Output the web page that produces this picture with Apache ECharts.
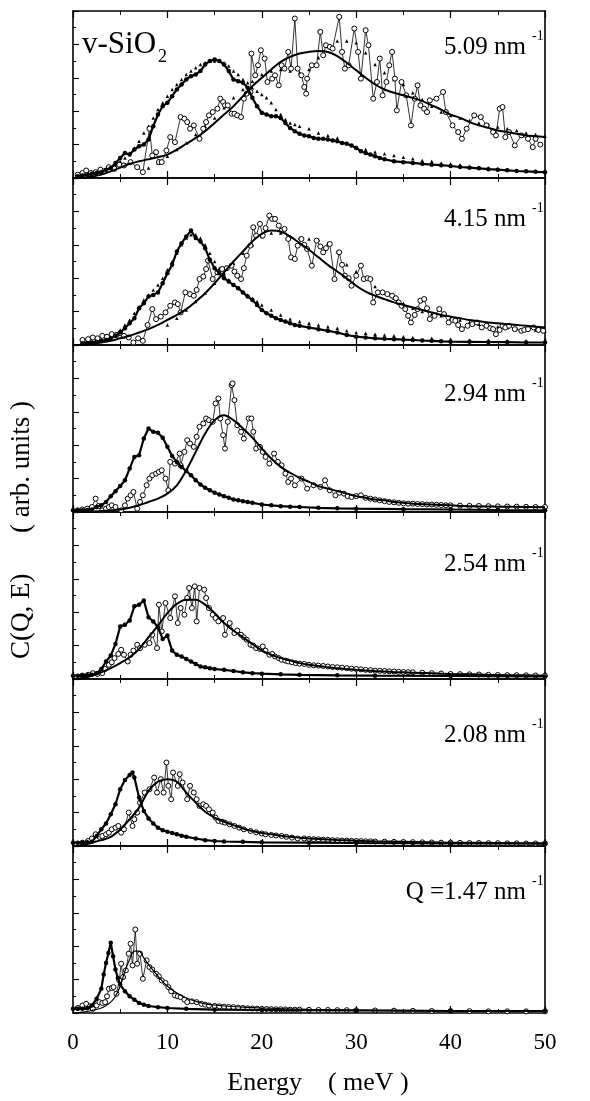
<!DOCTYPE html>
<html>
<head>
<meta charset="utf-8">
<script src="https://cdn.jsdelivr.net/npm/echarts@6/dist/echarts.min.js"></script>
<style>
  html, body { margin: 0; padding: 0; background: #fff; }
  #chart { width: 590px; height: 1101px; }
</style>
</head>
<body>
<div id="chart"></div>
<script>
// energy axis
var eTicks = [0, 10, 20, 30, 40, 50];

// ---- Q = 5.09 nm-1 ----
var open509 = [[0.5,0.2],[1.0,0.3],[1.4,0.45],[1.9,0.3],[2.4,0.35],[2.9,0.5],[3.3,0.4],[3.8,0.65],[4.4,0.55],[4.9,0.8],[5.4,0.75],[6.1,0.95],[6.8,0.65],[7.4,0.35],[8.1,2.95],[8.4,1.35],[8.8,1.55],[9.1,0.95],[9.4,0.95],[9.9,1.65],[10.3,2.45],[10.8,2.15],[11.4,3.65],[11.8,3.55],[12.1,3.35],[12.4,2.95],[12.8,3.15],[13.4,2.35],[13.8,2.95],[14.1,3.35],[14.4,3.75],[14.8,3.95],[15.3,4.15],[15.6,4.75],[15.9,4.55],[16.1,4.35],[16.4,4.35],[16.8,3.85],[17.1,3.85],[17.4,3.75],[17.8,3.65],[18.1,4.75],[18.4,5.05],[18.8,5.15],[18.9,7.45],[19.3,6.15],[19.6,6.75],[19.9,7.65],[20.3,7.15],[20.6,5.75],[21.1,5.95],[21.4,6.15],[21.8,5.55],[22.1,6.75],[22.4,6.55],[22.8,7.55],[23.1,6.55],[23.5,9.55],[23.8,6.55],[24.2,6.15],[24.5,5.45],[24.7,5.05],[24.8,5.95],[25.3,6.75],[25.8,6.75],[26.2,8.75],[26.5,7.35],[26.8,7.95],[27.2,7.85],[27.5,7.75],[28.2,9.65],[28.5,7.55],[28.8,6.55],[29.2,6.75],[29.8,8.95],[30.2,7.55],[30.5,5.95],[31.0,8.85],[31.3,7.95],[31.8,4.75],[32.2,5.75],[32.5,7.15],[32.8,4.95],[33.2,5.75],[33.5,6.75],[33.8,7.55],[34.1,5.95],[34.3,4.05],[34.8,5.75],[35.3,4.95],[35.8,3.15],[36.2,4.75],[36.5,5.55],[36.8,4.35],[37.2,4.15],[37.5,3.95],[37.8,4.65],[38.5,4.75],[39.2,5.15],[39.5,3.95],[40.2,3.15],[40.8,2.75],[41.2,2.35],[41.7,2.95],[42.5,3.75],[43.2,3.65],[43.8,3.15],[44.5,2.75],[44.8,2.55],[45.2,4.15],[45.5,4.25],[45.8,2.45],[46.2,2.75],[46.8,1.95],[47.5,2.55],[48.2,2.35],[48.7,1.85],[49.0,2.35],[49.5,2.0]];
var fill509 = [[0.5,0.1],[1,0.15],[1.5,0.2],[2,0.25],[2.5,0.3],[3,0.35],[3.5,0.5],[4,0.6],[4.5,0.9],[5,1.2],[5.5,1.5],[6,1.4],[6.5,1.7],[7,1.9],[7.5,2.0],[8,2.3],[8.5,3.1],[9,3.8],[9.5,4.3],[10,4.5],[10.5,4.9],[11,5.3],[11.5,5.6],[12,5.9],[12.5,6.1],[13,6.2],[13.5,6.4],[14,6.8],[14.5,7.0],[15,7.1],[15.5,7.0],[16,6.8],[16.5,6.4],[17,5.9],[17.5,5.8],[18,5.7],[18.5,5.4],[19,4.8],[19.5,4.3],[20,3.9],[20.5,3.8],[21,3.7],[21.5,3.7],[22,3.6],[22.5,3.3],[23,3.0],[23.5,2.8],[24,2.65],[24.5,2.55],[25,2.5],[25.5,2.4],[26,2.35],[26.5,2.35],[27,2.3],[27.5,2.25],[28,2.2],[28.5,2.1],[29,2.05],[29.5,1.95],[30,1.8],[30.5,1.6],[31,1.5],[31.5,1.4],[32,1.3],[32.5,1.2],[33,1.12],[34,1.0],[35,0.95],[36,0.9],[37,0.85],[38,0.8],[39,0.77],[40,0.72],[41,0.66],[42,0.62],[43,0.58],[44,0.53],[45,0.5],[46,0.46],[47,0.42],[48,0.4],[49,0.37],[50,0.35]];
var triLow509 = [[2,0.2],[2.5,0.3],[3,0.4],[3.5,0.5],[4,0.6],[4.5,0.8],[5,1.0],[5.5,1.2],[6,1.5],[6.5,1.8],[7,2.2],[7.5,2.7],[8,3.1],[8.5,3.6],[9,4.1],[9.5,4.5],[10,4.9],[10.5,5.3],[11,5.6],[11.5,5.9],[12,6.2],[12.5,6.4],[13,6.6],[13.5,6.8],[14,6.9],[14.5,7.0],[15,7.0],[15.5,7.0],[16,6.9],[16.5,6.7],[17,6.4],[17.5,6.2],[18,5.9],[18.5,5.7],[19,5.4],[19.5,5.2],[20,5.0],[20.5,4.8],[21,4.5],[21.5,4.1],[22,3.8],[22.5,3.5],[23,3.3],[23.5,3.2],[24,3.1],[25,2.95],[26,2.7],[27,2.55],[28,2.4],[29,2.1],[30,1.85],[31,1.7],[32,1.55],[33,1.45],[34,1.35],[35,1.25],[36,1.15],[37,1.05],[38,1.0],[39,0.9],[40,0.85],[41,0.8],[42,0.7],[43,0.65],[44,0.6],[45,0.55],[46,0.5],[47,0.47],[48,0.45],[49,0.42],[50,0.4]];
var triHigh509 = [[8,0.6],[9,0.9],[10,1.3],[11,1.7],[12,2.1],[13,2.6],[14,3.1],[15,3.6],[16,4.2],[17,4.8],[18,5.3],[19,5.8],[20,6.2],[21,6.4],[22,6.5],[23,6.4],[24,6.3],[25,6.5],[26,7.2],[27,7.9],[28,8.2],[29,8.2],[30,8.1],[31,7.5],[32,6.8],[33,6.3],[34,5.9],[35,5.6],[36,5.1],[37,4.7],[38,4.3],[39,3.95],[40,3.75],[41,3.6],[42,3.45],[43,3.3],[44,3.2],[45,3.05],[46,2.95],[47,2.85],[48,2.7],[49,2.6],[50,2.5]];
var fit509 = [[0,0],[1,0.02],[2,0.08],[3,0.2],[4,0.4],[5,0.62],[6,0.85],[7,1.0],[8,1.12],[9,1.25],[10,1.4],[11,1.7],[12,2.05],[13,2.4],[14,2.8],[15,3.3],[16,3.8],[17,4.3],[18,4.9],[19,5.5],[20,6.0],[21,6.5],[22,6.95],[23,7.25],[24,7.45],[25,7.55],[26,7.6],[27,7.55],[28,7.3],[29,6.9],[30,6.45],[31,6.0],[32,5.6],[33,5.3],[34,5.1],[35,4.95],[36,4.8],[37,4.6],[38,4.35],[39,4.1],[40,3.8],[41,3.6],[42,3.35],[43,3.15],[44,3.0],[45,2.85],[46,2.75],[47,2.65],[48,2.55],[49,2.5],[50,2.45]];

// ---- Q = 4.15 nm-1 ----
var open415 = [[1.0,0.3],[1.6,0.35],[2.1,0.45],[2.6,0.4],[3.1,0.55],[3.6,0.5],[4.1,0.65],[4.6,0.6],[5.0,0.7],[5.4,0.55],[5.9,0.45],[6.4,0.15],[6.9,0.4],[7.4,0.25],[7.9,1.2],[8.4,2.15],[8.8,1.55],[9.3,1.7],[9.8,1.95],[10.3,2.35],[10.8,2.55],[11.1,2.45],[11.4,1.95],[11.9,3.15],[12.4,3.05],[12.8,2.95],[13.1,3.3],[13.4,3.95],[13.8,4.1],[14.1,4.55],[14.3,5.05],[14.8,3.95],[15.3,4.35],[15.8,4.55],[16.3,4.6],[16.8,4.75],[17.1,4.4],[17.4,4.15],[17.8,3.95],[18.1,4.6],[18.4,5.35],[18.8,5.95],[19.1,7.05],[19.4,6.55],[19.8,7.25],[20.1,6.55],[20.4,7.0],[20.8,7.75],[21.1,7.55],[21.4,7.55],[21.8,7.15],[22.1,6.85],[22.4,6.95],[22.8,6.35],[23.1,5.25],[23.5,5.15],[23.8,5.95],[24.2,6.35],[24.5,6.0],[24.8,5.75],[25.3,4.75],[25.8,6.25],[26.2,5.9],[26.5,5.55],[26.8,5.8],[27.2,6.05],[27.7,3.95],[28.2,5.55],[28.5,4.8],[28.8,4.15],[29.2,4.0],[29.5,3.55],[30.0,4.15],[30.5,4.75],[30.8,3.95],[31.2,4.0],[31.5,3.95],[31.8,2.55],[32.3,3.15],[32.8,3.15],[33.3,3.05],[33.8,2.95],[34.2,2.8],[34.5,2.55],[34.8,2.35],[35.2,2.15],[35.5,1.75],[35.8,1.35],[36.2,1.8],[36.5,2.15],[36.8,2.65],[37.2,2.75],[37.5,2.2],[37.8,1.55],[38.3,1.75],[38.8,2.15],[39.3,1.85],[39.8,1.35],[40.2,1.5],[40.5,1.45],[40.8,1.2],[41.2,0.95],[41.8,1.15],[42.3,1.25],[42.8,1.35],[43.3,1.05],[43.8,1.15],[44.2,1.0],[44.5,0.95],[44.8,0.65],[45.2,0.9],[45.5,1.15],[45.8,1.05],[46.2,1.15],[46.8,0.95],[47.5,0.85],[47.8,0.9],[48.2,0.95],[48.8,1.05],[49.3,0.9],[49.8,0.85]];
var fill415 = [[1,0.1],[1.5,0.12],[2,0.15],[2.5,0.2],[3,0.25],[3.5,0.3],[4,0.4],[4.5,0.55],[5,0.75],[5.5,1.0],[6,1.3],[6.5,1.6],[7,2.2],[7.5,2.5],[8,2.9],[8.5,3.0],[9,3.15],[9.5,3.7],[10,4.3],[10.5,4.8],[11,5.6],[11.5,6.1],[12,6.5],[12.5,6.85],[13,6.4],[13.5,6.2],[14,5.8],[14.5,5.1],[15,4.6],[15.5,4.3],[16,4.0],[16.5,3.8],[17,3.6],[17.5,3.4],[18,3.15],[18.5,2.9],[19,2.7],[19.5,2.4],[20,2.1],[20.5,1.9],[21,1.75],[21.5,1.6],[22,1.5],[22.5,1.4],[23,1.3],[23.5,1.2],[24,1.15],[25,1.05],[26,0.95],[27,0.85],[28,0.75],[29,0.6],[30,0.5],[31,0.45],[32,0.4],[33,0.37],[34,0.35],[35,0.32],[36,0.3],[37,0.27],[38,0.25],[39,0.22],[40,0.2],[42,0.19],[44,0.18],[46,0.17],[48,0.15],[50,0.15]];
var triLow415 = [[3,0.3],[3.5,0.4],[4,0.5],[4.5,0.7],[5,0.9],[5.5,1.2],[6,1.5],[6.5,1.9],[7,2.3],[7.5,2.7],[8,3.0],[8.5,3.3],[9,3.6],[9.5,4.0],[10,4.5],[10.5,5.0],[11,5.5],[11.5,6.0],[12,6.4],[12.5,6.6],[13,6.6],[13.5,6.4],[14,6.0],[14.5,5.5],[15,5.0],[15.5,4.6],[16,4.2],[16.5,3.9],[17,3.6],[17.5,3.4],[18,3.2],[18.5,3.0],[19,2.8],[19.5,2.6],[20,2.4],[21,2.1],[22,1.8],[23,1.55],[24,1.4],[25,1.3],[26,1.2],[27,1.1],[28,1.0],[29,0.85],[30,0.75],[31,0.7],[32,0.65],[33,0.6],[34,0.55],[35,0.5],[36,0.45],[38,0.4],[40,0.35],[42,0.3],[44,0.28],[46,0.26],[48,0.25],[50,0.25]];
var triHigh415 = [[10,1.2],[11,1.6],[12,2.1],[13,2.6],[14,3.1],[15,3.7],[16,4.3],[17,4.9],[18,5.5],[19,6.0],[20,6.5],[21,6.7],[22,6.7],[23,6.5],[24,6.4],[25,6.35],[26,6.3],[27,6.1],[28,5.6],[29,4.8],[30,4.4],[31,4.0],[32,3.5],[33,3.1],[34,2.8],[35,2.5],[36,2.2],[37,2.0],[38,1.85],[39,1.75],[40,1.6],[41,1.5],[42,1.35],[43,1.25],[44,1.2],[45,1.1],[46,1.05],[47,1.0],[48,0.95],[49,0.9],[50,0.85]];
var fit415 = [[0,0],[1,0.02],[2,0.08],[3,0.15],[4,0.25],[5,0.4],[6,0.55],[7,0.75],[8,0.95],[9,1.2],[10,1.5],[11,1.8],[12,2.15],[13,2.6],[14,3.1],[15,3.7],[16,4.35],[17,5.0],[18,5.6],[19,6.2],[20,6.65],[21,6.85],[22,6.8],[23,6.5],[24,6.1],[25,5.7],[26,5.25],[27,4.8],[28,4.4],[29,4.0],[30,3.55],[31,3.2],[32,2.95],[33,2.75],[34,2.55],[35,2.4],[36,2.25],[37,2.1],[38,1.95],[39,1.8],[40,1.7],[41,1.6],[42,1.5],[43,1.42],[44,1.35],[45,1.3],[46,1.25],[47,1.2],[48,1.15],[49,1.1],[50,1.05]];

// ---- Q = 2.94 nm-1 ----
var open294 = [[0.5,0.1],[1.0,0.15],[1.5,0.2],[2.0,0.3],[2.4,0.8],[2.7,0.35],[3.1,0.1],[3.5,0.2],[3.8,0.3],[4.1,0.4],[4.5,0.3],[5.1,0.1],[5.5,0.4],[5.8,0.8],[6.1,1.0],[6.4,1.2],[6.8,0.2],[7.1,0.6],[7.4,1.0],[7.8,1.6],[8.1,2.0],[8.4,2.2],[8.8,2.3],[9.1,2.4],[9.4,2.5],[9.8,2.0],[10.1,1.3],[10.3,3.0],[10.8,2.9],[11.3,3.5],[11.4,2.8],[11.8,3.6],[12.1,4.3],[12.4,4.1],[12.8,3.9],[13.1,4.5],[13.4,5.1],[13.8,5.3],[14.1,5.6],[14.4,5.5],[14.8,5.4],[15.1,6.5],[15.4,6.8],[15.6,5.6],[15.9,4.6],[16.1,3.8],[16.4,5.4],[16.8,7.6],[16.9,7.7],[17.1,6.7],[17.4,5.2],[17.8,4.8],[18.1,4.4],[18.6,5.6],[18.9,5.6],[19.1,4.8],[19.4,3.8],[19.8,3.9],[20.1,3.6],[20.4,3.3],[20.8,2.9],[21.3,3.5],[21.7,3.0],[22.1,2.8],[22.5,2.3],[22.8,1.8],[23.1,2.0],[23.5,1.6],[24.2,2.0],[24.8,1.4],[25.5,1.6],[26.2,1.5],[26.7,1.9],[27.2,1.3],[27.8,1.0],[28.2,1.15],[28.7,1.1],[29.1,0.95],[29.5,0.9],[30.0,0.95],[30.5,1.0],[31.0,0.85],[31.5,0.8],[32.0,0.75],[32.5,0.7],[33.0,0.65],[33.5,0.6],[34.0,0.58],[34.5,0.55],[35.0,0.52],[35.5,0.5],[36.0,0.5],[36.5,0.48],[37.0,0.47],[37.5,0.45],[38.0,0.45],[38.5,0.43],[39.0,0.42],[39.5,0.4],[40.0,0.4],[41,0.38],[42,0.37],[43,0.36],[44,0.35],[45,0.34],[46,0.33],[47,0.32],[48,0.31],[49,0.3],[50,0.3]];
var fill294 = [[0,0.1],[0.5,0.1],[1,0.1],[1.5,0.12],[2,0.15],[2.5,0.3],[3,0.4],[3.5,0.6],[4,0.95],[4.5,1.25],[5,1.55],[5.5,1.9],[6,2.6],[6.5,3.3],[7,3.4],[7.5,4.4],[8,5.0],[8.5,4.8],[9,4.75],[9.5,4.45],[10,3.9],[10.5,3.35],[11,3.0],[11.5,2.7],[12,2.45],[12.5,2.2],[13,1.9],[13.5,1.65],[14,1.45],[14.5,1.3],[15,1.15],[15.5,1.05],[16,0.95],[16.5,0.85],[17,0.75],[17.5,0.7],[18,0.65],[18.5,0.6],[19,0.55],[20,0.45],[21,0.4],[22,0.35],[23,0.32],[24,0.3],[26,0.25],[28,0.22],[30,0.2],[35,0.17],[40,0.15],[45,0.12],[50,0.1]];
var fit294 = [[0,0],[2,0.02],[4,0.1],[5,0.15],[6,0.25],[7,0.4],[8,0.6],[9,0.8],[10,1.1],[11,1.6],[12,2.5],[13,3.6],[14,4.7],[15,5.5],[16,5.8],[17,5.5],[18,5.0],[19,4.45],[20,3.8],[21,3.2],[22,2.7],[23,2.35],[24,2.05],[25,1.8],[26,1.55],[27,1.4],[28,1.25],[29,1.1],[30,0.95],[31,0.85],[32,0.75],[33,0.7],[34,0.6],[35,0.55],[36,0.5],[38,0.45],[40,0.4],[42,0.35],[45,0.32],[48,0.3],[50,0.28]];

// ---- Q = 2.54 nm-1 ----
var open254 = [[1.0,0.2],[1.6,0.25],[2.1,0.35],[2.6,0.3],[3.1,0.35],[3.4,0.6],[3.8,0.85],[4.1,1.0],[4.4,1.25],[4.8,1.5],[5.1,1.75],[5.4,1.45],[5.8,1.05],[6.1,1.45],[6.4,1.7],[6.8,2.05],[7.1,1.85],[7.6,2.05],[8.1,2.15],[8.4,2.65],[8.9,1.85],[9.1,4.45],[9.4,2.85],[9.8,4.55],[10.3,3.65],[10.8,4.95],[11.1,3.35],[11.4,4.25],[11.8,3.85],[12.1,4.85],[12.3,5.45],[12.6,4.25],[12.9,5.55],[13.1,3.45],[13.4,5.45],[13.9,5.35],[14.1,4.85],[14.4,4.25],[14.8,3.85],[15.1,3.65],[15.4,3.45],[15.9,3.65],[16.1,2.65],[16.6,3.35],[17.1,2.75],[17.4,2.9],[17.8,2.65],[18.1,2.5],[18.4,2.35],[18.8,2.05],[19.1,2.0],[19.4,1.85],[19.8,1.8],[20.1,1.95],[20.4,1.7],[20.8,1.45],[21.1,1.5],[21.4,1.35],[21.8,1.25],[22.1,1.15],[22.5,1.1],[22.8,1.05],[23.2,1.0],[23.6,0.95],[24.0,0.92],[24.5,0.9],[25.0,0.85],[25.5,0.82],[26.0,0.8],[26.5,0.78],[27.0,0.75],[27.5,0.72],[28.0,0.7],[28.5,0.68],[29.0,0.65],[29.5,0.62],[30.0,0.6],[30.5,0.58],[31.0,0.55],[31.5,0.53],[32.0,0.5],[32.5,0.49],[33.0,0.48],[33.5,0.46],[34.0,0.45],[34.5,0.43],[35.0,0.42],[35.5,0.41],[36.0,0.4],[37,0.38],[38,0.35],[39,0.33],[40,0.3],[41,0.29],[42,0.28],[43,0.27],[44,0.25],[45,0.24],[46,0.23],[47,0.23],[48,0.22],[49,0.21],[50,0.2]];
var fill254 = [[0,0.2],[0.5,0.2],[1,0.22],[1.5,0.22],[2,0.25],[2.5,0.35],[3,0.6],[3.5,1.05],[4,1.4],[4.5,2.1],[5,3.15],[5.5,3.25],[6,3.5],[6.5,4.35],[7,4.45],[7.5,4.7],[8,3.7],[8.5,3.45],[9,3.1],[9.5,2.4],[10,2.6],[10.5,1.7],[11,1.45],[11.5,1.35],[12,1.2],[12.5,1.05],[13,0.9],[13.5,0.75],[14,0.7],[14.5,0.65],[15,0.6],[16,0.55],[17,0.48],[18,0.4],[19,0.35],[20,0.32],[22,0.28],[24,0.25],[28,0.22],[32,0.2],[40,0.18],[50,0.15]];
var fit254 = [[0,0],[1,0.05],[2,0.2],[3,0.4],[4,0.65],[5,0.95],[6,1.3],[7,1.8],[8,2.5],[9,3.2],[10,3.95],[11,4.5],[12,4.75],[13,4.75],[14,4.45],[15,3.95],[16,3.35],[17,2.9],[18,2.5],[19,2.1],[20,1.7],[21,1.45],[22,1.25],[23,1.1],[24,0.95],[25,0.85],[26,0.78],[27,0.7],[28,0.65],[29,0.6],[30,0.55],[32,0.48],[34,0.42],[36,0.38],[38,0.34],[40,0.3],[42,0.28],[44,0.25],[46,0.23],[48,0.22],[50,0.2]];

// ---- Q = 2.08 nm-1 ----
var open208 = [[1.0,0.2],[1.6,0.3],[2.0,0.45],[2.4,0.7],[2.8,0.55],[3.1,0.6],[3.5,0.7],[3.8,0.8],[4.1,1.0],[4.5,1.1],[4.8,1.2],[5.1,0.8],[5.4,1.0],[5.9,2.0],[6.3,1.2],[6.5,1.6],[6.8,2.0],[7.1,2.6],[7.6,3.2],[8.1,3.4],[8.6,4.1],[8.9,3.2],[9.3,4.0],[9.6,3.2],[9.9,5.0],[10.1,3.6],[10.4,2.8],[10.6,4.4],[11.1,3.6],[11.3,4.3],[11.6,3.8],[12.1,2.8],[12.4,3.6],[12.8,3.2],[13.1,2.8],[13.4,2.4],[13.8,2.5],[14.1,2.4],[14.4,2.2],[14.8,2.0],[15.1,1.7],[15.4,1.5],[15.8,1.45],[16.1,1.4],[16.6,1.3],[17.1,1.2],[17.6,1.1],[18.1,1.0],[18.8,0.9],[19.4,0.82],[20.0,0.75],[20.4,0.7],[21.0,0.66],[21.5,0.63],[22.1,0.6],[22.6,0.55],[23.2,0.5],[23.8,0.45],[24.5,0.45],[25.0,0.42],[25.5,0.41],[26.0,0.4],[26.5,0.38],[27.0,0.37],[27.5,0.35],[28.0,0.34],[28.5,0.33],[29.0,0.32],[29.5,0.31],[30.0,0.3],[30.5,0.29],[31.0,0.28],[31.5,0.28],[32.0,0.27],[33,0.26],[34,0.25],[35,0.24],[36,0.23],[37,0.22],[38,0.21],[39,0.2],[40,0.2],[41,0.19],[42,0.18],[43,0.18],[44,0.17],[45,0.17],[46,0.16],[47,0.16],[48,0.15],[49,0.15],[50,0.15]];
var fill208 = [[0,0.2],[0.5,0.2],[1,0.2],[1.5,0.22],[2,0.25],[2.5,0.6],[3,1.0],[3.5,1.35],[4,1.9],[4.5,2.5],[5,3.4],[5.5,3.95],[6,4.25],[6.3,4.4],[6.5,4.1],[7,2.9],[7.5,2.1],[8,1.65],[8.5,1.35],[9,1.1],[9.5,0.95],[10,0.85],[10.5,0.78],[11,0.7],[11.5,0.62],[12,0.55],[13,0.45],[14,0.35],[15,0.3],[16,0.27],[18,0.25],[20,0.22],[25,0.2],[30,0.18],[40,0.15],[50,0.15]];
var fit208 = [[0,0],[1,0.05],[2,0.2],[3,0.35],[4,0.55],[5,1.0],[6,1.6],[7,2.3],[8,3.3],[9,3.85],[10,4.0],[11,3.85],[12,3.2],[13,2.6],[14,2.05],[15,1.7],[16,1.45],[17,1.25],[18,1.05],[19,0.9],[20,0.78],[21,0.7],[22,0.62],[23,0.55],[24,0.5],[25,0.45],[26,0.42],[28,0.36],[30,0.32],[32,0.28],[35,0.25],[40,0.2],[45,0.18],[50,0.15]];

// ---- Q = 1.47 nm-1 ----
var open147 = [[0.5,0.3],[1.0,0.45],[1.4,0.55],[1.8,0.4],[2.1,0.25],[2.5,0.45],[2.8,0.65],[3.1,0.6],[3.4,0.65],[3.6,1.0],[3.8,1.45],[4.1,1.5],[4.3,1.55],[4.6,1.15],[4.9,1.95],[5.1,2.95],[5.3,2.15],[5.6,2.55],[5.9,3.55],[6.1,4.15],[6.3,2.85],[6.6,5.0],[6.8,2.95],[7.1,3.55],[7.4,2.05],[7.8,3.15],[8.1,2.75],[8.4,2.6],[8.8,2.35],[9.1,2.2],[9.4,1.95],[9.8,1.8],[10.1,1.55],[10.4,1.3],[10.8,1.05],[11.1,1.0],[11.4,0.95],[11.8,0.8],[12.1,0.65],[12.6,0.7],[13.1,0.65],[13.6,0.55],[14.0,0.5],[14.4,0.45],[15.0,0.42],[15.5,0.4],[16.0,0.38],[16.5,0.36],[17.0,0.35],[17.5,0.32],[18.0,0.3],[18.5,0.28],[19.0,0.27],[19.5,0.26],[20.0,0.25],[20.5,0.24],[21.0,0.23],[21.5,0.22],[22.0,0.22],[22.5,0.21],[23.0,0.2],[23.5,0.2],[24.0,0.2],[25,0.19],[26,0.18],[27,0.18],[28,0.17],[29,0.17],[30,0.16],[32,0.15],[34,0.14],[36,0.13],[38,0.12],[40,0.12],[42,0.11],[44,0.1],[46,0.1],[48,0.1],[50,0.1]];
var fill147 = [[0,0.25],[0.5,0.25],[1,0.25],[1.5,0.28],[2,0.45],[2.5,0.85],[3,1.45],[3.25,2.3],[3.5,3.0],[3.75,3.6],[4,4.2],[4.25,3.4],[4.5,2.6],[4.75,2.1],[5,1.7],[5.5,1.3],[6,1.0],[6.5,0.8],[7,0.6],[7.5,0.5],[8,0.42],[9,0.35],[10,0.3],[12,0.25],[15,0.2],[20,0.18],[30,0.15],[40,0.12],[50,0.12]];
var fit147 = [[0,0],[1,0.05],[2,0.15],[3,0.3],[3.5,0.45],[4,0.65],[4.5,1.0],[5,1.6],[5.5,2.5],[6,3.2],[6.5,3.7],[7,3.7],[7.5,3.3],[8,2.9],[8.5,2.55],[9,2.2],[10,1.6],[11,1.2],[12,0.9],[13,0.7],[14,0.55],[15,0.48],[16,0.42],[18,0.35],[20,0.3],[25,0.22],[30,0.18],[40,0.14],[50,0.12]];

var qLabels = ['5.09 nm', '4.15 nm', '2.94 nm', '2.54 nm', '2.08 nm', 'Q =1.47 nm'];

var panels = [
  { open: open509, fill: fill509, fit: fit509, triLow: triLow509, triHigh: triHigh509 },
  { open: open415, fill: fill415, fit: fit415, triLow: triLow415, triHigh: triHigh415 },
  { open: open294, fill: fill294, fit: fit294 },
  { open: open254, fill: fill254, fit: fit254 },
  { open: open208, fill: fill208, fit: fit208 },
  { open: open147, fill: fill147, fit: fit147, thinFit: true }
];

var FONT = '"Liberation Serif", "Times New Roman", serif';
var LEFT = 73, RIGHT = 545, TOP = 11, PH = 167;

var grids = [], xAxes = [], yAxes = [], series = [], graphics = [];

panels.forEach(function (p, i) {
  grids.push({ left: LEFT, width: RIGHT - LEFT, top: TOP + PH * i, height: PH });
  var xBase = {
    gridIndex: i, type: 'value', min: 0, max: 50, interval: 10,
    axisLine: { show: true, onZero: false, lineStyle: { color: '#000', width: 1.6 } },
    axisTick: { show: true, inside: true, length: 7, lineStyle: { color: '#000', width: 1.2 } },
    minorTick: { show: true, splitNumber: 2, length: 4, lineStyle: { color: '#000', width: 1 } },
    splitLine: { show: false },
    axisLabel: { show: false }
  };
  var xb = Object.assign({}, xBase, { position: 'bottom' });
  if (i === panels.length - 1) {
    xb.axisLabel = {
      show: true, margin: 18, color: '#000', fontSize: 23, fontFamily: FONT,
      customValues: eTicks
    };
  }
  xAxes.push(xb);
  xAxes.push(Object.assign({}, xBase, { position: 'top' }));

  var yBase = {
    gridIndex: i, type: 'value', min: 0, max: 10, interval: 2,
    axisLine: { show: true, onZero: false, lineStyle: { color: '#000', width: 1.6 } },
    axisTick: { show: true, inside: true, length: 6, lineStyle: { color: '#000', width: 1.1 } },
    minorTick: { show: true, splitNumber: 2, length: 3, lineStyle: { color: '#000', width: 1 } },
    splitLine: { show: false },
    axisLabel: { show: false }
  };
  yAxes.push(Object.assign({}, yBase, { position: 'left' }));
  yAxes.push(Object.assign({}, yBase, { position: 'right', axisTick: { show: false }, minorTick: { show: false } }));

  var xi = i * 2, yi = i * 2;

  if (p.triLow) {
    [p.triLow, p.triHigh].forEach(function (d) {
      series.push({
        type: 'line', xAxisIndex: xi, yAxisIndex: yi, data: d, z: 1,
        symbol: 'triangle', symbolSize: 3.5, showAllSymbol: true,
        itemStyle: { color: '#000' }, lineStyle: { width: 0, opacity: 0 }
      });
    });
  }
  series.push({
    type: 'line', xAxisIndex: xi, yAxisIndex: yi, data: p.open, z: 2,
    symbol: 'circle', symbolSize: 5, showAllSymbol: true,
    itemStyle: { color: '#fff', borderColor: '#000', borderWidth: 1 },
    lineStyle: { color: '#000', width: 0.8 }
  });
  series.push({
    type: 'line', xAxisIndex: xi, yAxisIndex: yi, data: p.fit, z: 3,
    smooth: 0.35, showSymbol: false,
    lineStyle: { color: '#000', width: p.thinFit ? 1.2 : 2 }
  });
  series.push({
    type: 'line', xAxisIndex: xi, yAxisIndex: yi, data: p.fill, z: 4,
    symbol: 'circle', symbolSize: 4.5, showAllSymbol: true,
    itemStyle: { color: '#000' },
    lineStyle: { color: '#000', width: 2.2 }
  });
});

// panel labels
var labelBase = [55, 227, 402, 572, 743, 900];
qLabels.forEach(function (t, i) {
  graphics.push({
    type: 'text', x: 526, y: labelBase[i] - 8,
    style: { text: t, font: '25px ' + FONT, fill: '#000', textAlign: 'right', textVerticalAlign: 'middle' }
  });
  graphics.push({
    type: 'text', x: 532, y: labelBase[i] - 19,
    style: { text: '-1', font: '14px ' + FONT, fill: '#000', textAlign: 'left', textVerticalAlign: 'middle' }
  });
});

graphics.push({
  type: 'text', x: 82, y: 45,
  style: { text: 'v-SiO', font: '31px ' + FONT, fill: '#000', textAlign: 'left', textVerticalAlign: 'middle' }
});
graphics.push({
  type: 'text', x: 158, y: 57,
  style: { text: '2', font: '18px ' + FONT, fill: '#000', textAlign: 'left', textVerticalAlign: 'middle' }
});
graphics.push({
  type: 'text', x: 22, y: 530, rotation: Math.PI / 2,
  style: { text: 'C(Q, E)      ( arb. units )', font: '27px ' + FONT, fill: '#000', textAlign: 'center', textVerticalAlign: 'middle' }
});
graphics.push({
  type: 'text', x: 318, y: 1083,
  style: { text: 'Energy    ( meV )', font: '26px ' + FONT, fill: '#000', textAlign: 'center', textVerticalAlign: 'middle' }
});

var chart = echarts.init(document.getElementById('chart'), null, { renderer: 'canvas' });
chart.setOption({
  animation: false,
  backgroundColor: '#fff',
  grid: grids,
  xAxis: xAxes,
  yAxis: yAxes,
  series: series,
  graphic: graphics
});
</script>
</body>
</html>
